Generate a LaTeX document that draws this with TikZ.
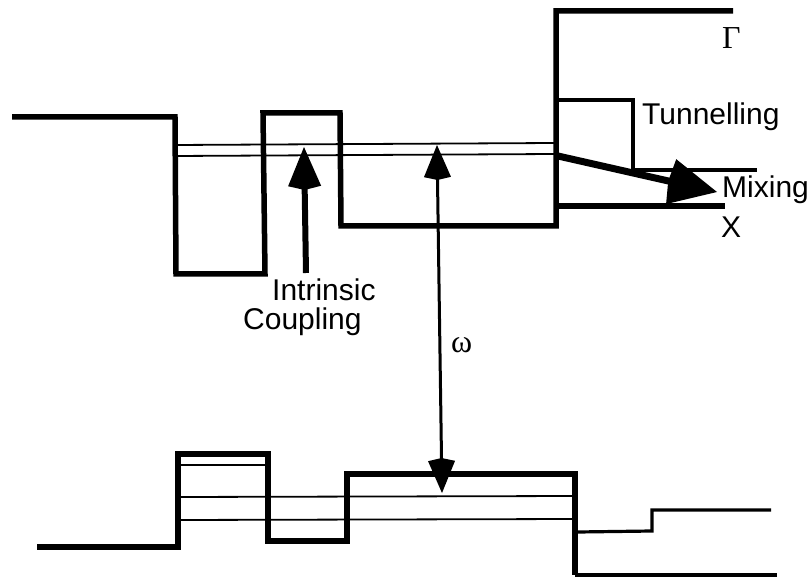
\documentclass[tikz,border=0pt]{standalone}
\usepackage{fontspec}
\setmainfont{Liberation Sans}
\newfontfamily\greekfont{Liberation Serif}
\usetikzlibrary{arrows.meta}
\tikzstyle{band} = [line width=5.5pt, line join=miter]
\tikzstyle{barrier} = [line width=3.2pt]
\tikzstyle{level} = [line width=1.8pt]
\tikzstyle{label} = [inner sep=0pt, anchor=base west, font=\fontsize{30}{32}\selectfont]
\tikzstyle{greek} = [inner sep=0pt, anchor=base west, font=\fontsize{32}{34}\selectfont\greekfont]
\tikzstyle{coupling} = [line width=6pt, -{Kite[length=43pt,width=33pt,inset=4pt]}]
\tikzstyle{photon} = [line width=3pt, {Kite[length=35pt,width=27pt,inset=3pt]}-{Kite[length=35pt,width=27pt,inset=3pt]}]
\tikzstyle{mixing} = [line width=7pt, -{Kite[length=50pt,width=46pt,inset=3pt]}]

\begin{document}
\begin{tikzpicture}[x=1pt,y=-1pt]
	\useasboundingbox (0,0) rectangle (812,577);
	% levels
	\draw[level] (175,145) -- (555,143);
	\draw[level] (175,156) -- (555,154);
	\draw[level] (178,465) -- (268,465);
	\draw[level] (178,497) -- (576,496);
	\draw[level] (178,520) -- (576,519);
	% upper well
	\draw[band] (12,117) -- (175,117) -- (176,274) -- (265,274) -- (263,113) -- (340,113) -- (341,226) -- (556,226) -- (556,11) -- (733,11);
	\draw[band] (556,206) -- (725,206);
	\draw[barrier] (556,100) -- (633,100) -- (633,170) -- (757,170);
	% lower well
	\draw[band] (37,547) -- (178,547) -- (178,454) -- (268,454) -- (268,541) -- (347,541) -- (347,474) -- (575,474) -- (575,575);
	\draw[barrier] (575,575) -- (777,575);
	\draw[barrier] (578,532) -- (652,531) -- (652,510) -- (771,510);
	% labels
	\node[greek] (gamma) at (722,49) {Γ};
	\node[label] (tunnelling) at (642,125) {Tunnelling};
	\node[label] (mix) at (722,198) {Mixing};
	\node[label] (xvalley) at (721,238) {X};
	\node[label] (intrinsic) at (272,301) {Intrinsic};
	\node[label] (couplingtext) at (243,330) {Coupling};
	\node[greek] (omega) at (451,353) {ω};
	% arrows
	\coordinate (couplingtail) at (306,273);
	\coordinate (couplingtip) at (304,147);
	\coordinate (photontop) at (437,145);
	\coordinate (photonbottom) at (442,493);
	\coordinate (mixingtail) at (558,156);
	\coordinate (mixingtip) at (717,192);
	\draw[coupling] (couplingtail) -- (couplingtip);
	\draw[photon] (photontop) -- (photonbottom);
	\draw[mixing] (mixingtail) -- (mixingtip);
\end{tikzpicture}
\end{document}
